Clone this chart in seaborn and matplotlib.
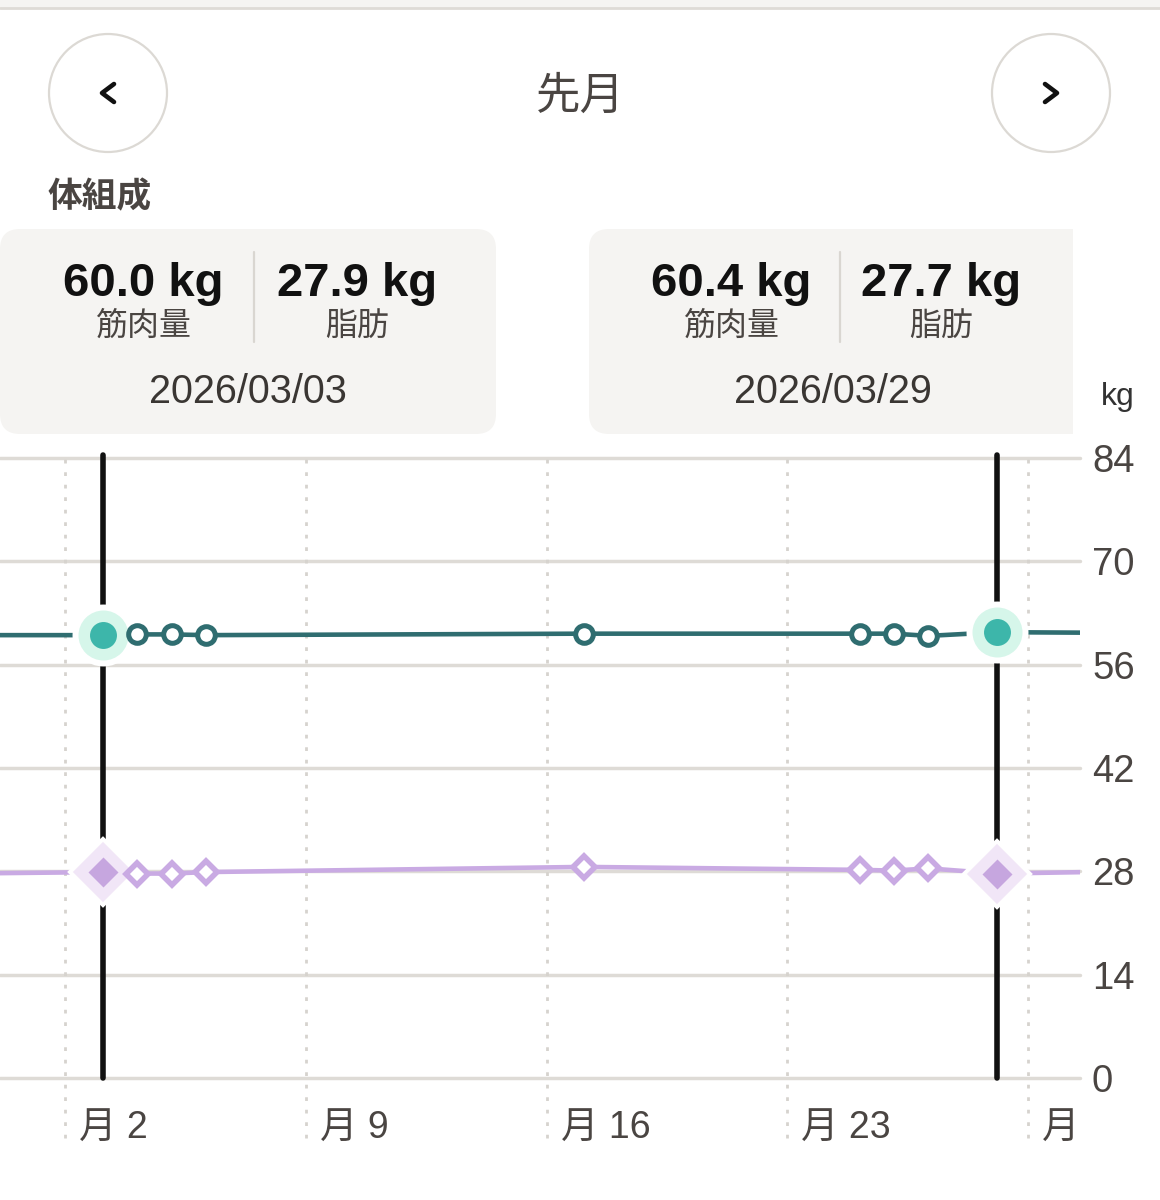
import numpy as np
import pandas as pd
import seaborn as sns
import matplotlib
matplotlib.use("Agg")
import matplotlib.pyplot as plt
from matplotlib.patches import FancyBboxPatch, Circle, Rectangle
from matplotlib.lines import Line2D
import matplotlib.transforms as mtrans

# ---------------- data ----------------
days = [3.1, 4.1, 5.1, 6.1, 17.1, 25.1, 26.1, 27.1, 29.1]
muscle = [60.0, 60.1, 60.1, 60.0, 60.2, 60.2, 60.2, 59.9, 60.4]
fat = [27.9, 27.7, 27.7, 27.9, 28.6, 28.2, 28.1, 28.4, 27.7]
selected = [0, 8]
prev_day, next_day = -1.0, 33.0
prev_muscle, next_muscle = 60.0, 60.3
prev_fat, next_fat = 27.7, 28.0

tick_days = [2, 9, 16, 23, 30]
tick_labels = ["月 2", "月 9", "月 16", "月 23", "月"]
y_ticks = [0, 14, 28, 42, 56, 70, 84]

card_dates = ["2026/03/03", "2026/03/29"]
card_muscle = ["60.0 kg", "60.4 kg"]
card_fat = ["27.9 kg", "27.7 kg"]

# ---------------- style ----------------
sns.set_theme(style="white")
plt.rcParams["font.family"] = ["Liberation Sans", "Noto Sans CJK JP"]
plt.rcParams["lines.scale_dashes"] = False

W, H = 1160, 1200
fig = plt.figure(figsize=(W / 100, H / 100), dpi=100)
fig.patch.set_facecolor("white")
T = fig.dpi_scale_trans

def ix(x):
    return x / 100.0

def iy(y):
    return (H - y) / 100.0

TXT = "#4a4542"
TEAL = "#2f6d70"
TEAL_FILL = "#3db6aa"
TEAL_HALO = "#d6f6ea"
LAV = "#c9aae3"
LAV_FILL = "#c6a6df"
LAV_HALO = "#f1e6f7"

# top strip
fig.add_artist(Rectangle((0, iy(8)), ix(W), ix(8), transform=T,
                         facecolor="#f5f4f2", edgecolor="none"))
fig.add_artist(Line2D([0, ix(W)], [iy(8), iy(8)], transform=T,
                      color="#dedbd6", lw=2))

# nav buttons
for cx, tipx, armx in [(108, 102, 114), (1051, 1057, 1045)]:
    fig.add_artist(Circle((ix(cx), iy(93)), ix(59), transform=T,
                          fill=False, edgecolor="#dcd9d4", lw=1.6))
    fig.add_artist(Line2D([ix(armx), ix(tipx), ix(armx)],
                          [iy(84), iy(93), iy(102)], transform=T,
                          color="#111111", lw=3.3, solid_capstyle="round",
                          solid_joinstyle="round"))

fig.text(580 / W, 1 - 97 / H, "先月", ha="center", va="center",
         fontsize=32, color=TXT)
fig.text(48 / W, 1 - 198 / H, "体組成", ha="left", va="center",
         fontsize=25, color=TXT, fontweight="bold")

# cards
clip = Rectangle((0, 0), ix(1073), ix(H), transform=T)
cards = [(0, 496), (589, 1110)]
centers = [(143, 357, 254, 248), (731, 941, 840, 833)]
for i, ((x0, x1), (cm, cf, dv, cd)) in enumerate(zip(cards, centers)):
    p = FancyBboxPatch((ix(x0), iy(434)), ix(x1 - x0), ix(434 - 229),
                       boxstyle="round,pad=0,rounding_size=0.2", transform=T,
                       facecolor="#f5f4f2", edgecolor="none")
    fig.add_artist(p)
    p.set_clip_path(clip)
    fig.add_artist(Line2D([ix(dv), ix(dv)], [iy(252), iy(342)], transform=T,
                          color="#d9d6d1", lw=1.6))
    fig.text(cm / W, 1 - 284 / H, card_muscle[i], ha="center", va="center",
             fontsize=34, fontweight="bold", color="#111111")
    fig.text(cf / W, 1 - 284 / H, card_fat[i], ha="center", va="center",
             fontsize=34, fontweight="bold", color="#111111")
    fig.text(cm / W, 1 - 327 / H, "筋肉量", ha="center", va="center",
             fontsize=23, color=TXT)
    fig.text(cf / W, 1 - 327 / H, "脂肪", ha="center", va="center",
             fontsize=23, color=TXT)
    fig.text(cd / W, 1 - 392 / H, card_dates[i], ha="center", va="center",
             fontsize=28.5, color="#3a3633")

fig.text(1118 / W, 1 - 397 / H, "kg", ha="center", va="center",
         fontsize=23, color="#333333")

# ---------------- chart ----------------
ax = fig.add_axes([0, 122 / H, 1080 / W, 620 / H])
ax.set_facecolor("none")
ax.set_xlim(2 - 65 / 34.4, 2 + 1015 / 34.4)
ax.set_ylim(0, 84)

ax.set_yticks(y_ticks)
ax.yaxis.tick_right()
ax.grid(axis="y", color="#dedbd6", lw=2.5, zorder=0.5)
ax.grid(axis="x", visible=False)
for gl in ax.get_ygridlines():
    gl.set_clip_on(False)
ax.tick_params(axis="y", length=0, pad=8.6, labelsize=27.5, labelcolor=TXT)

ax.set_xticks(tick_days)
ax.set_xticklabels(tick_labels)
ax.tick_params(axis="x", length=0, pad=36.5, labelsize=27, labelcolor=TXT)
offset = mtrans.ScaledTranslation(14 / 100, 0, fig.dpi_scale_trans)
for lbl in ax.get_xticklabels():
    lbl.set_ha("left")
    lbl.set_va("center")
    lbl.set_transform(lbl.get_transform() + offset)

for s in ax.spines.values():
    s.set_visible(False)

for d in tick_days:
    ax.axvline(d, ymin=-0.097, ymax=1, color="#d6d3ce", lw=2,
               dashes=(2.7, 6.3), clip_on=False, zorder=1)

for i in selected:
    ax.axvline(days[i], ymin=0, ymax=1.005, color="#111111", lw=4,
               clip_on=False, zorder=2)

line_days = [prev_day] + days + [next_day]
df = pd.DataFrame({
    "day": line_days,
    "muscle": [prev_muscle] + muscle + [next_muscle],
    "fat": [prev_fat] + fat + [next_fat],
})
sns.lineplot(data=df, x="day", y="muscle", ax=ax, color=TEAL, lw=3.3,
             zorder=3, estimator=None, sort=False)
sns.lineplot(data=df, x="day", y="fat", ax=ax, color=LAV, lw=3.3,
             zorder=3, estimator=None, sort=False)
ax.set_xlabel("")
ax.set_ylabel("")

others = [i for i in range(len(days)) if i not in selected]
ox = [days[i] for i in others]
ax.plot(ox, [muscle[i] for i in others], ls="none", marker="o", ms=12.7,
        mfc="white", mec=TEAL, mew=3.6, zorder=4.5)
ax.plot(ox, [fat[i] for i in others], ls="none", marker="D", ms=11.4,
        mfc="white", mec=LAV, mew=4.0, zorder=4.5)

sx = [days[i] for i in selected]
ax.plot(sx, [muscle[i] for i in selected], ls="none", marker="o", ms=40.3,
        mfc=TEAL_HALO, mec="white", mew=4.3, zorder=4)
ax.plot(sx, [muscle[i] for i in selected], ls="none", marker="o", ms=19.4,
        mfc=TEAL_FILL, mec="none", zorder=5)
ax.plot(sx, [fat[i] for i in selected], ls="none", marker="D", ms=33.4,
        mfc=LAV_HALO, mec="white", mew=2.9, zorder=4)
ax.plot(sx, [fat[i] for i in selected], ls="none", marker="D", ms=15.3,
        mfc=LAV_FILL, mec="none", zorder=5)

fig.savefig("out.png", dpi=100, facecolor="white")
